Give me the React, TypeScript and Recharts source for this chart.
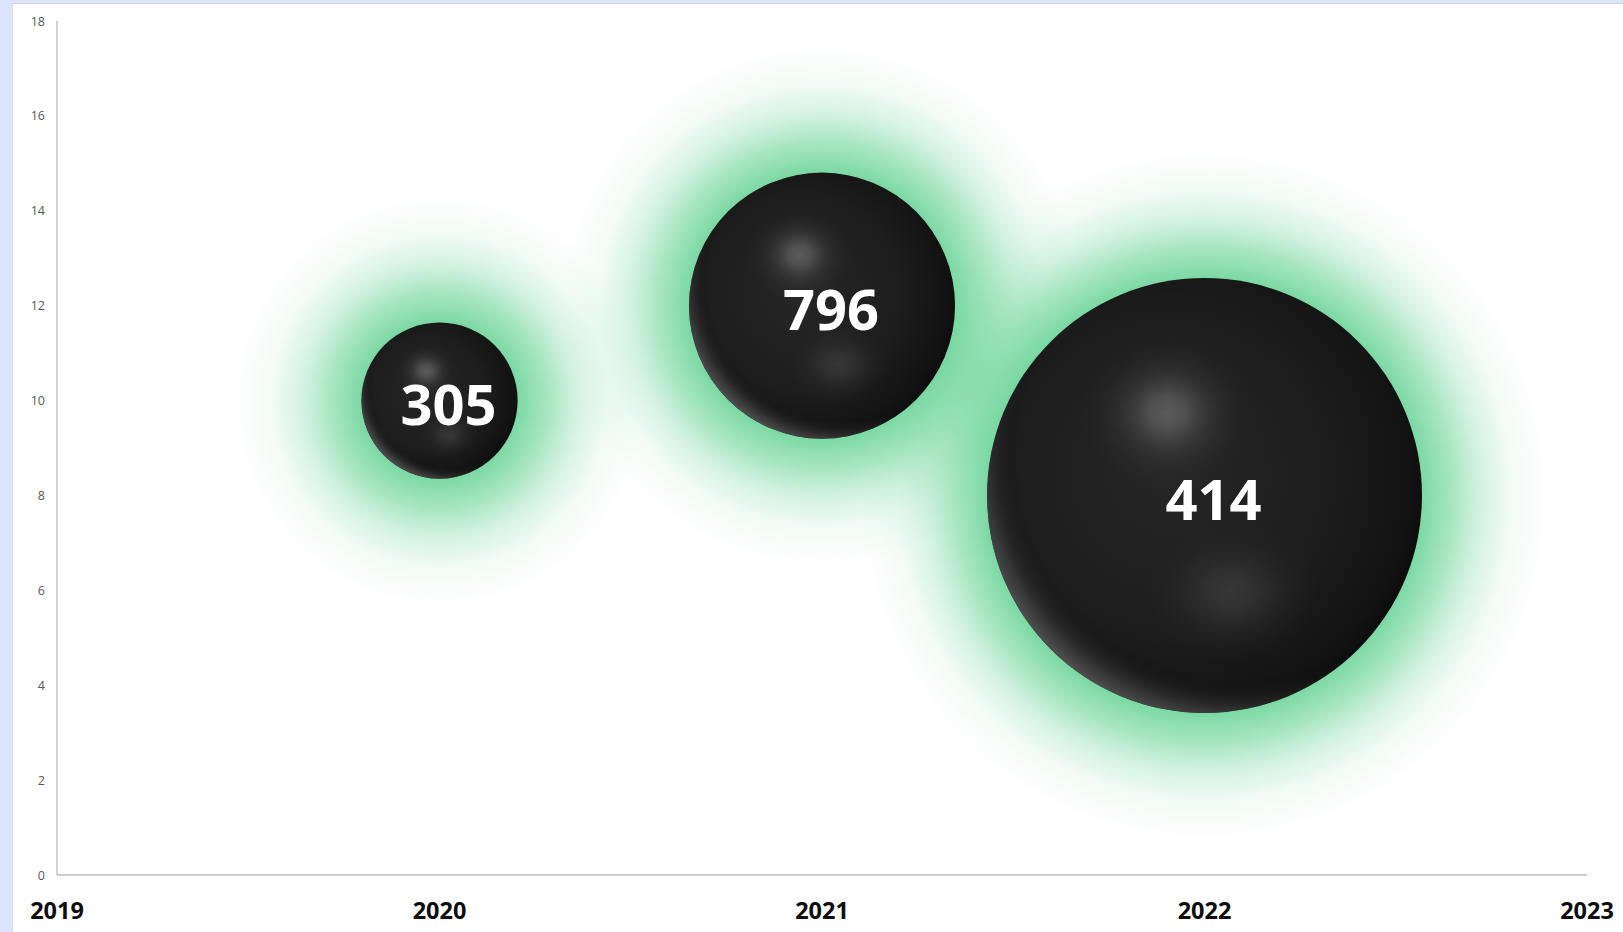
import React from 'react';
import { ScatterChart, Scatter, XAxis, YAxis, ZAxis } from 'recharts';

// ---- data ----
const years = [2020, 2021, 2022];
const yValues = [10, 12, 8];
const bubbleSizes = [6.1, 17.7, 47.3];
const bubbleLabels = ['305', '796', '414'];
const xTicks = [2019, 2020, 2021, 2022, 2023];
const yTicks = [0, 2, 4, 6, 8, 10, 12, 14, 16, 18];

const data = years.map((yr, i) => ({ x: yr, y: yValues[i], z: bubbleSizes[i], label: bubbleLabels[i] }));

const MAX_R = 217.5;
const maxZ = Math.max(...bubbleSizes);

const FONT = '"Open Sans", "Liberation Sans", sans-serif';
const GLOW = '#5fd08f';

const Glow = (props: any) => {
  const { cx, cy, width, payload } = props;
  if (cx == null || cy == null) return null;
  const r = width / 2;
  const R = r + 128;
  const id = `glow-${payload.x}`;
  const o = (d: number) => (r + d) / R;
  return (
    <g>
      <defs>
        <radialGradient id={id} cx="50%" cy="50%" r="50%">
          <stop offset={o(-2)} stopColor={GLOW} stopOpacity={0.84} />
          <stop offset={o(15)} stopColor={GLOW} stopOpacity={0.68} />
          <stop offset={o(30)} stopColor={GLOW} stopOpacity={0.55} />
          <stop offset={o(45)} stopColor={GLOW} stopOpacity={0.4} />
          <stop offset={o(60)} stopColor={GLOW} stopOpacity={0.26} />
          <stop offset={o(90)} stopColor={GLOW} stopOpacity={0.08} />
          <stop offset={1} stopColor={GLOW} stopOpacity={0} />
        </radialGradient>
      </defs>
      <circle cx={cx} cy={cy} r={R} fill={`url(#${id})`} />
    </g>
  );
};

const Sphere = (props: any) => {
  const { cx, cy, width, payload } = props;
  if (cx == null || cy == null) return null;
  const r = width / 2;
  const k = payload.x;
  return (
    <g>
      <defs>
        <radialGradient id={`base-${k}`} cx="42%" cy="45%" r="62%">
          <stop offset={0} stopColor="#262626" />
          <stop offset={0.6} stopColor="#1d1d1d" />
          <stop offset={0.9} stopColor="#121212" />
          <stop offset={1} stopColor="#080808" />
        </radialGradient>
        <radialGradient id={`hl1-${k}`} cx="50%" cy="50%" r="50%">
          <stop offset={0} stopColor="#6e6e6e" stopOpacity={0.75} />
          <stop offset={0.2} stopColor="#666666" stopOpacity={0.66} />
          <stop offset={0.5} stopColor="#4a4a4a" stopOpacity={0.35} />
          <stop offset={0.8} stopColor="#333333" stopOpacity={0.1} />
          <stop offset={1} stopColor="#262626" stopOpacity={0} />
        </radialGradient>
        <radialGradient id={`hl2-${k}`} cx="50%" cy="50%" r="50%">
          <stop offset={0} stopColor="#404040" stopOpacity={0.75} />
          <stop offset={0.3} stopColor="#3a3a3a" stopOpacity={0.6} />
          <stop offset={0.7} stopColor="#2e2e2e" stopOpacity={0.2} />
          <stop offset={1} stopColor="#262626" stopOpacity={0} />
        </radialGradient>
        <radialGradient id={`rim-${k}`} cx="58%" cy="41%" r="62%">
          <stop offset={0} stopColor="#000" stopOpacity={0} />
          <stop offset={0.82} stopColor="#000" stopOpacity={0} />
          <stop offset={0.95} stopColor="#606060" stopOpacity={0.45} />
          <stop offset={1} stopColor="#777777" stopOpacity={0.6} />
        </radialGradient>
        <clipPath id={`clip-${k}`}>
          <circle cx={cx} cy={cy} r={r} />
        </clipPath>
      </defs>
      <circle cx={cx} cy={cy} r={r} fill={`url(#base-${k})`} />
      <g clipPath={`url(#clip-${k})`}>
        <circle cx={cx} cy={cy} r={r} fill={`url(#rim-${k})`} />
        <ellipse cx={cx - 0.17 * r} cy={cy - 0.38 * r} rx={0.42 * r} ry={0.38 * r} fill={`url(#hl1-${k})`} />
        <ellipse cx={cx + 0.12 * r} cy={cy + 0.44 * r} rx={0.4 * r} ry={0.32 * r} fill={`url(#hl2-${k})`} />
      </g>
      <text
        x={cx + 9}
        y={cy + 4}
        dy="0.36em"
        textAnchor="middle"
        fill="#ffffff"
        fontFamily={FONT}
        fontWeight={700}
        fontSize={56}
      >
        {payload.label}
      </text>
    </g>
  );
};

const XTick = (props: any) => {
  const { x, y, payload } = props;
  return (
    <text x={x} y={y + 44} textAnchor="middle" fill="#0d0d0d" fontFamily={FONT} fontWeight={700} fontSize={23.5}>
      {payload.value}
    </text>
  );
};

const YTick = (props: any) => {
  const { x, y, payload } = props;
  return (
    <text x={x} y={y} dy="0.36em" textAnchor="end" fill="#595959" fontFamily={FONT} fontSize={12.5}>
      {payload.value}
    </text>
  );
};

export default function App() {
  return (
    <div style={{ position: 'absolute', left: 0, top: 0, width: 1623, height: 932, background: '#dce5fb', overflow: 'hidden' }}>
      <div
        style={{
          position: 'absolute',
          left: 12,
          top: 3,
          width: 1611,
          height: 929,
          background: '#ffffff',
          borderTop: '1px solid #d2d2d2',
          borderLeft: '1px solid #e0e0e0',
        }}
      >
        <ScatterChart width={1610} height={928} margin={{ top: 17, right: 36, bottom: 0, left: 0 }}>
          <XAxis
            type="number"
            dataKey="x"
            domain={[2019, 2023]}
            ticks={xTicks}
            interval={0}
            height={57}
            tickSize={0}
            tickMargin={0}
            tickLine={false}
            axisLine={{ stroke: '#bcbcbc', strokeWidth: 1.3 }}
            tick={<XTick />}
          />
          <YAxis
            type="number"
            dataKey="y"
            domain={[0, 18]}
            ticks={yTicks}
            interval={0}
            width={44}
            tickSize={0}
            tickMargin={12}
            tickLine={false}
            axisLine={{ stroke: '#bcbcbc', strokeWidth: 1.3 }}
            tick={<YTick />}
          />
          <ZAxis type="number" dataKey="z" domain={[0, maxZ]} range={[0, Math.PI * MAX_R * MAX_R]} />
          <Scatter data={data} shape={<Glow />} isAnimationActive={false} />
          <Scatter data={data} shape={<Sphere />} isAnimationActive={false} />
        </ScatterChart>
      </div>
    </div>
  );
}
